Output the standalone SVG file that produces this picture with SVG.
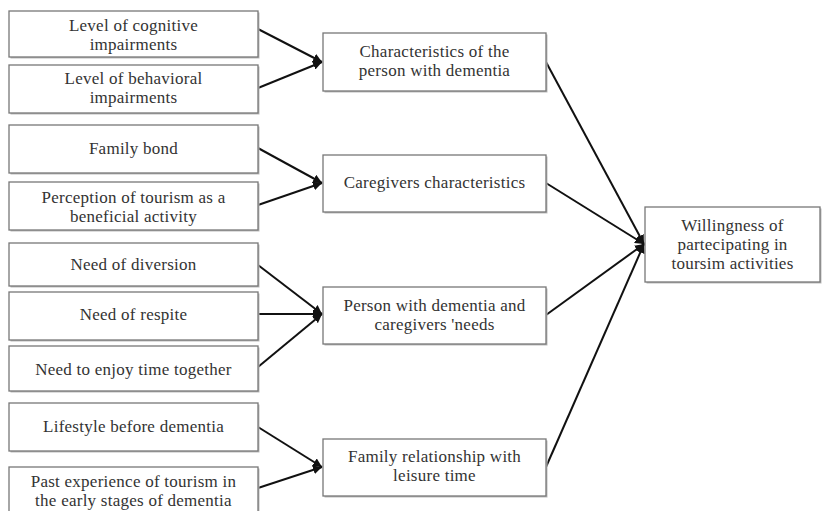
<svg xmlns="http://www.w3.org/2000/svg" width="822" height="511" viewBox="0 0 822 511">
<style>
.box{fill:#fff;stroke:#777;stroke-width:1.3}
.sh{fill:#bbb}
.t{font-family:"Liberation Serif","Times New Roman",serif;font-size:17px;letter-spacing:0.25px;fill:#333;text-anchor:middle}
.c{stroke:#111;stroke-width:2;fill:none}
</style>
<defs>
<marker id="ah" viewBox="0 0 10 10" refX="10" refY="5" markerWidth="4.5" markerHeight="4.5" orient="auto" markerUnits="strokeWidth">
<path d="M0,0 L10,5 L0,10 z" fill="#111"/>
</marker>
</defs>
<rect width="822" height="511" fill="#fff"/>
<g id="connectors">
<line class="c" x1="258" y1="29" x2="322" y2="62" marker-end="url(#ah)"/>
<line class="c" x1="258" y1="88" x2="322" y2="62" marker-end="url(#ah)"/>
<line class="c" x1="258" y1="148" x2="322" y2="183" marker-end="url(#ah)"/>
<line class="c" x1="258" y1="205" x2="322" y2="183" marker-end="url(#ah)"/>
<line class="c" x1="258" y1="265" x2="322" y2="314" marker-end="url(#ah)"/>
<line class="c" x1="258" y1="314" x2="322" y2="314" marker-end="url(#ah)"/>
<line class="c" x1="258" y1="367" x2="322" y2="314" marker-end="url(#ah)"/>
<line class="c" x1="258" y1="427" x2="322" y2="467" marker-end="url(#ah)"/>
<line class="c" x1="258" y1="488" x2="322" y2="467" marker-end="url(#ah)"/>
<line class="c" x1="546" y1="62" x2="644" y2="244" marker-end="url(#ah)"/>
<line class="c" x1="546" y1="183" x2="644" y2="244" marker-end="url(#ah)"/>
<line class="c" x1="546" y1="315" x2="644" y2="244" marker-end="url(#ah)"/>
<line class="c" x1="546" y1="467" x2="644" y2="244" marker-end="url(#ah)"/>
</g>
<g id="n1"><rect class="sh" x="10.5" y="12.5" width="249" height="46"/><rect class="box" x="9" y="11" width="249" height="46"/><text class="t" x="133.5" y="31">Level of cognitive</text><text class="t" x="133.5" y="50">impairments</text></g>
<g id="n2"><rect class="sh" x="10.5" y="66.5" width="249" height="48"/><rect class="box" x="9" y="65" width="249" height="48"/><text class="t" x="133.5" y="84">Level of behavioral</text><text class="t" x="133.5" y="103">impairments</text></g>
<g id="n3"><rect class="sh" x="10.5" y="126.5" width="249" height="48"/><rect class="box" x="9" y="125" width="249" height="48"/><text class="t" x="133.5" y="154">Family bond</text></g>
<g id="n4"><rect class="sh" x="10.5" y="183.5" width="249" height="48"/><rect class="box" x="9" y="182" width="249" height="48"/><text class="t" x="133.5" y="203">Perception of tourism as a</text><text class="t" x="133.5" y="222">beneficial activity</text></g>
<g id="n5"><rect class="sh" x="10.5" y="244.5" width="249" height="43"/><rect class="box" x="9" y="243" width="249" height="43"/><text class="t" x="133.5" y="270">Need of diversion</text></g>
<g id="n6"><rect class="sh" x="10.5" y="293.5" width="249" height="48"/><rect class="box" x="9" y="292" width="249" height="48"/><text class="t" x="133.5" y="320">Need of respite</text></g>
<g id="n7"><rect class="sh" x="10.5" y="347.5" width="249" height="45"/><rect class="box" x="9" y="346" width="249" height="45"/><text class="t" x="133.5" y="375">Need to enjoy time together</text></g>
<g id="n8"><rect class="sh" x="10.5" y="404.5" width="249" height="48"/><rect class="box" x="9" y="403" width="249" height="48"/><text class="t" x="133.5" y="432">Lifestyle before dementia</text></g>
<g id="n9"><rect class="sh" x="10.5" y="468.5" width="249" height="50"/><rect class="box" x="9" y="467" width="249" height="50"/><text class="t" x="133.5" y="487">Past experience of tourism in</text><text class="t" x="133.5" y="506">the early stages of dementia</text></g>
<g id="mA"><rect class="sh" x="324.5" y="34.5" width="223" height="58"/><rect class="box" x="323" y="33" width="223" height="58"/><text class="t" x="434.5" y="57">Characteristics of the</text><text class="t" x="434.5" y="76">person with dementia</text></g>
<g id="mB"><rect class="sh" x="324.5" y="156.5" width="223" height="57"/><rect class="box" x="323" y="155" width="223" height="57"/><text class="t" x="434.5" y="188">Caregivers characteristics</text></g>
<g id="mC"><rect class="sh" x="324.5" y="288.5" width="223" height="57"/><rect class="box" x="323" y="287" width="223" height="57"/><text class="t" x="434.5" y="311">Person with dementia and</text><text class="t" x="434.5" y="330">caregivers 'needs</text></g>
<g id="mD"><rect class="sh" x="324.5" y="440.5" width="223" height="57"/><rect class="box" x="323" y="439" width="223" height="57"/><text class="t" x="434.5" y="462">Family relationship with</text><text class="t" x="434.5" y="481">leisure time</text></g>
<g id="r1"><rect class="sh" x="646.5" y="208.5" width="175" height="75"/><rect class="box" x="645" y="207" width="175" height="75"/><text class="t" x="732.5" y="231">Willingness of</text><text class="t" x="732.5" y="250">partecipating in</text><text class="t" x="732.5" y="269">toursim activities</text></g>
</svg>
